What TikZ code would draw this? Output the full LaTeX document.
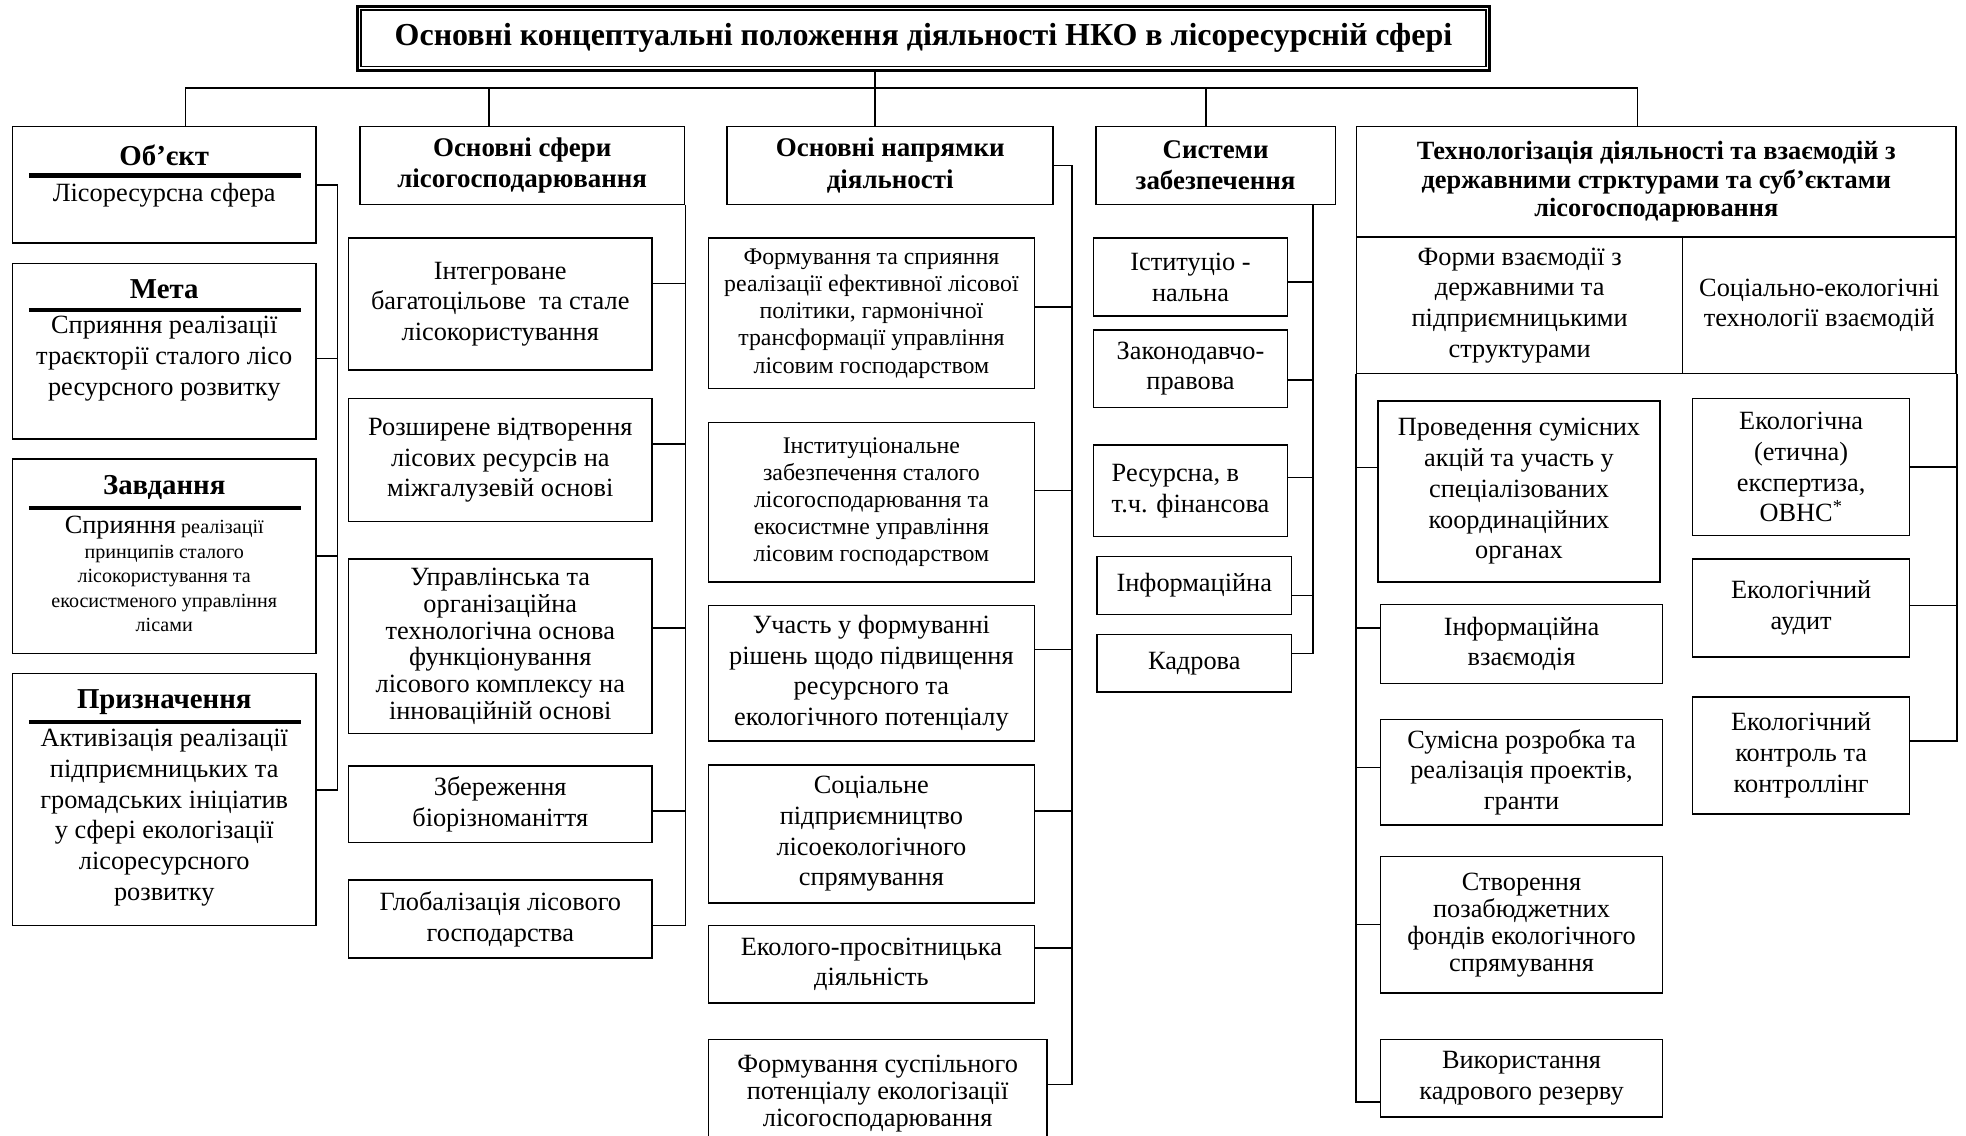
\documentclass[tikz,border=0pt]{standalone}
\usepackage{fontspec}
\setmainfont{Liberation Serif}
\begin{document}
\begin{tikzpicture}[x=1pt,y=-1pt,
    txt/.style={align=center, inner sep=0pt, font=\fontsize{21}{24.5}\selectfont},
    box/.style={txt, draw, line width=1.2pt},
    smallbox/.style={box, font=\fontsize{19}{21.7}\selectfont},
    hdbox/.style={box, font=\bfseries\fontsize{21.5}{25}\selectfont},
    lhd/.style={txt, font=\bfseries\fontsize{23}{26}\selectfont},
    link/.style={line width=1.2pt},
    headbar/.style={line width=3.5pt}]

  \path[use as bounding box, fill=white] (0,0) rectangle (1568,906);

  % title
  \node[box, line width=2.2pt, minimum width=903pt, minimum height=51pt,
        font=\bfseries\fontsize{25.5}{28}\selectfont] (title) at (736.5,30.5)
        {Основні концептуальні положення діяльності НКО в лісоресурсній сфері};
  \draw[line width=1pt] ([shift={(4pt,-4pt)}]title.north west) rectangle ([shift={(-4pt,4pt)}]title.south east);

  % left column
  \node[box, minimum width=242pt, minimum height=93pt] (obj) at (131,147.5) {};
  \node[lhd] (objh) at (131,124) {Об’єкт};
  \draw[headbar] (23,140) -- (240,140);
  \node[txt] (objt) at (131,156) {Лісоресурсна сфера};

  \node[box, minimum width=242pt, minimum height=140pt] (meta) at (131,280) {};
  \node[lhd] (metah) at (131,231) {Мета};
  \draw[headbar] (23,247) -- (240,247);
  \node[txt] (metat) at (131,286) {Сприяння реалізації\\траєкторії сталого лісо\\ресурсного розвитку};

  \node[box, minimum width=242pt, minimum height=155pt] (task) at (131,443.5) {};
  \node[lhd] (taskh) at (131,389) {Завдання};
  \draw[headbar] (23,405) -- (240,405);
  \node[txt, font=\fontsize{16}{19.5}\selectfont] (taskt) at (131,458)
        {{\fontsize{21}{19.5}\selectfont Сприяння} реалізації\\принципів сталого\\лісокористування та\\екосистменого управління\\лісами};

  \node[box, minimum width=242pt, minimum height=201pt] (purp) at (131,637.5) {};
  \node[lhd] (purph) at (131,560) {Призначення};
  \draw[headbar] (23,576) -- (240,576);
  \node[txt] (purpt) at (131,652) {Активізація реалізації\\підприємницьких та\\громадських ініціатив\\у сфері екологізації\\лісоресурсного\\розвитку};

  % spheres
  \node[hdbox, minimum width=259pt, minimum height=62pt] (sfery) at (416.5,132) {Основні сфери\\лісогосподарювання};
  \node[box, minimum width=242pt, minimum height=105pt] (b1) at (399,242.5) {Інтегроване\\багатоцільове \ та стале\\лісокористування};
  \node[box, minimum width=242pt, minimum height=98pt] (b2) at (399,367) {Розширене відтворення\\лісових ресурсів на\\міжгалузевій основі};
  \node[box, minimum width=242pt, minimum height=139pt, font=\fontsize{21}{21.4}\selectfont] (b3) at (399,515.5) {Управлінська та\\організаційна\\технологічна основа\\функціонування\\лісового комплексу на\\інноваційній основі};
  \node[box, minimum width=242pt, minimum height=61pt] (b4) at (399,641.5) {Збереження\\біорізноманіття};
  \node[box, minimum width=242pt, minimum height=62pt] (b5) at (399,733) {Глобалізація лісового\\господарства};

  % directions
  \node[hdbox, minimum width=260pt, minimum height=62pt] (napr) at (710,132) {Основні напрямки\\діяльності};
  \node[smallbox, minimum width=260pt, minimum height=120pt] (d1) at (695,250) {Формування та сприяння\\реалізації ефективної лісової\\політики, гармонічної\\трансформації управління\\лісовим господарством};
  \node[smallbox, minimum width=260pt, minimum height=127pt] (d2) at (695,400.5) {Інституціональне\\забезпечення сталого\\лісогосподарювання та\\екосистмне управління\\лісовим господарством};
  \node[box, minimum width=260pt, minimum height=108pt] (d3) at (695,537) {Участь у формуванні\\рішень щодо підвищення\\ресурсного та\\екологічного потенціалу};
  \node[box, minimum width=260pt, minimum height=110pt] (d4) at (695,665) {Соціальне\\підприємництво\\лісоекологічного\\спрямування};
  \node[box, minimum width=260pt, minimum height=62pt] (d5) at (695,769) {Еколого-просвітницька\\діяльність};
  \node[box, minimum width=270pt, minimum height=87pt, font=\fontsize{21}{21.5}\selectfont] (d6) at (700,872.5) {Формування суспільного\\потенціалу екологізації\\лісогосподарювання};

  % support systems
  \node[hdbox, minimum width=191pt, minimum height=62pt] (sys) at (969.5,132) {Системи\\забезпечення};
  \node[box, minimum width=155pt, minimum height=62pt] (s1) at (949.5,221) {Іституціо -\\нальна};
  \node[box, minimum width=155pt, minimum height=62pt] (s2) at (949.5,294) {Законодавчо-\\правова};
  \node[box, minimum width=155pt, minimum height=73pt, align=left] (s3) at (949.5,391.5) {Ресурсна, в\\т.ч. фінансова};
  \node[box, minimum width=155pt, minimum height=46pt] (s4) at (952.5,467) {Інформаційна};
  \node[box, minimum width=155pt, minimum height=46pt] (s5) at (952.5,529) {Кадрова};

  % technologization
  \node[box, minimum width=478pt, minimum height=88pt, font=\bfseries\fontsize{21}{22.5}\selectfont] (tech) at (1321,145) {Технологізація діяльності та взаємодій з\\державними стрктурами та суб’єктами\\лісогосподарювання};
  \node[box, minimum width=260pt, minimum height=109pt] (form) at (1212,243.5) {Форми взаємодії з\\державними та\\підприємницькими\\структурами};
  \node[box, minimum width=218pt, minimum height=109pt] (soc) at (1451,243.5) {Соціально-екологічні\\технології взаємодій};
  \node[box, minimum width=225pt, minimum height=144pt] (l1) at (1211.5,392) {Проведення сумісних\\акцій та участь у\\спеціалізованих\\координаційних\\органах};
  \node[box, minimum width=225pt, minimum height=63pt] (l2) at (1213.5,513.5) {Інформаційна\\взаємодія};
  \node[box, minimum width=225pt, minimum height=84pt] (l3) at (1213.5,616) {Сумісна розробка та\\реалізація проектів,\\гранти};
  \node[box, minimum width=225pt, minimum height=109pt, font=\fontsize{21}{21.5}\selectfont] (l4) at (1213.5,737.5) {Створення\\позабюджетних\\фондів екологічного\\спрямування};
  \node[box, minimum width=225pt, minimum height=62pt] (l5) at (1213.5,860) {Використання\\кадрового резерву};
  \node[box, minimum width=173pt, minimum height=109pt] (r1) at (1436.5,372.5) {Екологічна\\(етична)\\експертиза,\\ОВНС\textsuperscript{*}};
  \node[box, minimum width=173pt, minimum height=78pt] (r2) at (1436.5,485) {Екологічний\\аудит};
  \node[box, minimum width=173pt, minimum height=93pt] (r3) at (1436.5,602.5) {Екологічний\\контроль та\\контроллінг};

  % bus under the title
  \coordinate (bus) at (698,70);
  \draw[link] ([xshift=-38.5pt]title.south) -- ([xshift=-12pt]napr.north);
  \draw[link] ([xshift=17pt]obj.north) |- (bus) -| ([xshift=-15pt]tech.north);
  \draw[link] ([xshift=-26.5pt]sfery.north) |- (bus);
  \draw[link] ([xshift=-7.5pt]sys.north) |- (bus);

  % left bracket
  \coordinate (lbr) at (269,0);
  \foreach \n/\s in {obj/0,meta/-6,task/0,purp/7.5}
    \coordinate (\n-s) at ([yshift=\s pt]\n.east);
  \draw[link] (obj-s) -| (purp-s -| lbr) -- (purp-s);
  \foreach \n in {meta,task} \draw[link] (\n-s) -- (\n-s -| lbr);

  % spheres trunk
  \foreach \n/\s in {b1/16.5,b2/13,b3/14.5,b4/-5.5,b5/-5}
    \coordinate (\n-s) at ([yshift=\s pt]\n.east);
  \draw[link] (sfery.south east) |- (b5-s);
  \foreach \n in {b1,b2,b3,b4} \draw[link] (\n-s) -- (\n-s -| sfery.east);

  % directions trunk
  \coordinate (ntr) at (855,0);
  \foreach \n/\s in {d1/5,d2/9.5,d3/19,d4/18,d5/13,d6/7.5}
    \coordinate (\n-s) at ([yshift=\s pt]\n.east);
  \draw[link] (napr.east) -| (d6-s -| ntr) -- (d6-s);
  \foreach \n in {d1,d2,d3,d4,d5} \draw[link] (\n-s) -- (\n-s -| ntr);

  % systems trunk
  \coordinate (str) at (1047,0);
  \foreach \n/\s in {s1/-4,s2/-9,s3/10.5,s4/-8,s5/8}
    \coordinate (\n-s) at ([yshift=\s pt]\n.east);
  \draw[link] (sys.south -| str) |- (s5-s);
  \foreach \n in {s1,s2,s3,s4} \draw[link] (\n-s) -- (\n-s -| str);

  % forms trunk (left) and technologies trunk (right)
  \foreach \n/\s in {l1/19,l2/12.5,l3/4,l4/0,l5/-19}
    \coordinate (\n-s) at ([yshift=\s pt]\n.west);
  \draw[link] (form.south west) |- (l5-s);
  \foreach \n in {l1,l2,l3,l4} \draw[link] (\n-s) -- (\n-s -| form.west);
  \foreach \n/\s in {r1/0,r2/2,r3/11.5}
    \coordinate (\n-s) at ([yshift=\s pt]\n.east);
  \draw[link] (soc.south east) |- (r3-s);
  \foreach \n in {r1,r2} \draw[link] (\n-s) -- (\n-s -| soc.east);
\end{tikzpicture}
\end{document}
